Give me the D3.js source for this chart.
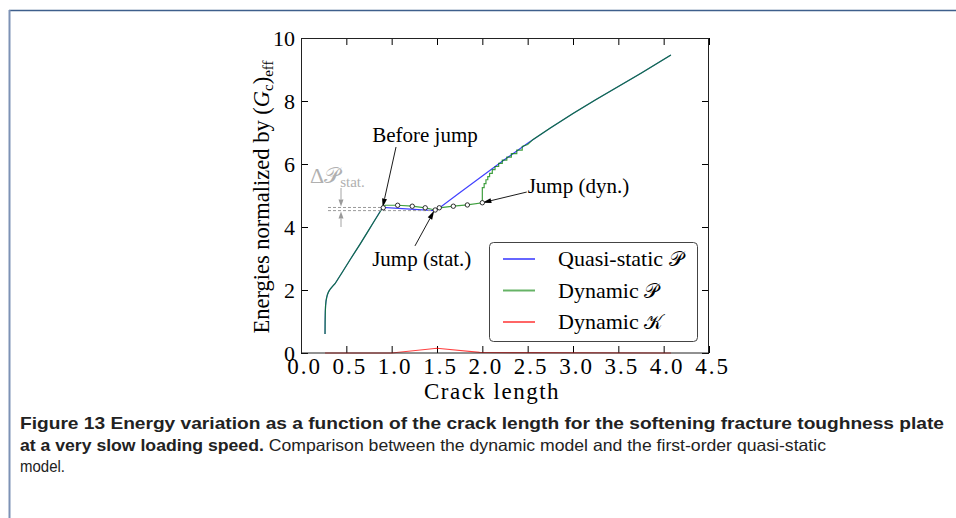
<!DOCTYPE html>
<html><head><meta charset="utf-8">
<script src="https://cdn.jsdelivr.net/npm/d3@7/dist/d3.min.js"></script>
<style>
html,body{margin:0;padding:0;background:#fff;}
svg text{font-family:"Liberation Serif","Times New Roman",serif;}
</style></head>
<body><svg id="c" width="956" height="518"></svg>
<script>
// ---- data ----
const xTicks = [0.0,0.5,1.0,1.5,2.0,2.5,3.0,3.5,4.0,4.5];
const yTicks = [0,2,4,6,8,10];

const quasiA = [0.265,0.266,0.268,0.271,0.276,0.283,0.292,0.305,0.325,0.35,0.375,0.45,0.55,0.65,0.73,0.80,0.90,
                1.47,1.50,1.75,2.00,2.25,2.50,2.75,3.00,3.25,3.50,3.75,4.08];
const quasiP = [0.60,1.00,1.30,1.50,1.65,1.76,1.86,1.95,2.04,2.12,2.20,2.54,3.00,3.45,3.82,4.15,4.62,
                4.52,4.55,5.09,5.62,6.15,6.66,7.14,7.60,8.04,8.46,8.88,9.46];

const dynA = [0.265,0.266,0.268,0.271,0.276,0.283,0.292,0.305,0.325,0.35,0.375,0.45,0.55,0.65,0.73,0.80,0.90,
              0.93,1.066,1.227,1.37,1.48,1.525,1.68,1.835,2.00,
              2.00,2.02,2.02,2.04,2.04,2.06,2.06,2.08,2.08,2.11,2.11,2.14,2.14,2.18,2.18,2.22,2.22,2.27,2.27,2.32,2.32,2.38,2.38,2.44,2.44,2.50,2.56,
              2.75,3.00,3.25,3.50,3.75,4.08];
const dynP = [0.60,1.00,1.30,1.50,1.65,1.76,1.86,1.95,2.04,2.12,2.20,2.54,3.00,3.45,3.82,4.15,4.61,
              4.69,4.69,4.66,4.61,4.54,4.61,4.66,4.70,4.77,
              5.25,5.25,5.38,5.38,5.50,5.50,5.60,5.60,5.70,5.70,5.82,5.82,5.92,5.92,6.02,6.02,6.12,6.12,6.22,6.22,6.33,6.33,6.44,6.44,6.56,6.62,6.78,
              7.14,7.60,8.04,8.46,8.88,9.46];

const kinA = [0.265,1.00,1.50,1.97,2.50,4.08];
const kinK = [0.0,0.0,0.15,0.02,0.01,0.0];

const markA = [0.907,1.066,1.227,1.37,1.48,1.525,1.68,1.835,2.00];
const markP = [4.61,4.69,4.66,4.61,4.54,4.61,4.66,4.70,4.77];

const seriesNames = ["Quasi-static ", "Dynamic ", "Dynamic "];
const seriesSymbols = ["\u{1D4AB}", "\u{1D4AB}", "\u{1D4A6}"];
const seriesColors = ["#0000ff", "#008000", "#ff0000"];

// annotations: label, arrow head (a,P), arrow tail (a,P), text position (a,P)
const annoLabels = ["Before jump", "Jump (stat.)", "Jump (dyn.)"];
const annoHead = [[0.90,4.62],[1.47,4.52],[2.00,4.77]];
const annoTail = [[1.048,6.54],[1.257,3.40],[2.49,5.11]];
const annoText = [[0.785,6.70],[0.785,2.75],[2.50,5.08]];
const deltaLevels = [4.62, 4.52];

// ---- layout ----
const svg = d3.select("#c");
const x = d3.scaleLinear().domain([0,4.5]).range([301,709]);
const y = d3.scaleLinear().domain([0,10]).range([353,38]);

// page frame
svg.append("line").attr("x1",9).attr("x2",956).attr("y1",10.5).attr("y2",10.5)
  .attr("stroke","#3e5f8c").attr("stroke-width",1.5);
svg.append("line").attr("x1",9.5).attr("x2",9.5).attr("y1",10).attr("y2",518)
  .attr("stroke","#7d92b5").attr("stroke-width",2);

// axes
const fmt = d3.format(".1f");
const gx = svg.append("g").attr("transform","translate(0,353)")
  .call(d3.axisBottom(x).tickValues(xTicks).tickSize(-7).tickPadding(5).tickFormat(fmt));
const gxt = svg.append("g").attr("transform","translate(0,38)")
  .call(d3.axisTop(x).tickValues(xTicks).tickSize(-7).tickFormat(""));
const gy = svg.append("g").attr("transform","translate(301,0)")
  .call(d3.axisLeft(y).tickValues(yTicks).tickSize(-7).tickPadding(6).tickFormat(d3.format("d")));
const gyr = svg.append("g").attr("transform","translate(709,0)")
  .call(d3.axisRight(y).tickValues(yTicks).tickSize(-7).tickFormat(""));
[gx,gxt,gy,gyr].forEach(g=>{
  g.select(".domain").remove();
  g.selectAll(".tick line").attr("stroke","#000").attr("stroke-width",1);
  g.selectAll("text").attr("font-family","Liberation Serif").attr("font-size",22).attr("fill","#000");
});
gx.selectAll("text").attr("font-size",23).attr("letter-spacing","2px").attr("dx","3");

// curves
const line = d3.line().x(d=>x(d[0])).y(d=>y(d[1]));
svg.append("defs").append("clipPath").attr("id","pc")
  .append("rect").attr("x",301).attr("y",38).attr("width",408).attr("height",316);
const plot = svg.append("g").attr("clip-path","url(#pc)");
plot.append("path").datum(quasiA.map((a,i)=>[a,quasiP[i]])).attr("d",line)
  .attr("fill","none").attr("stroke",seriesColors[0]).attr("stroke-opacity",0.75).attr("stroke-width",1.2);
plot.append("path").datum(dynA.map((a,i)=>[a,dynP[i]])).attr("d",line)
  .attr("fill","none").attr("stroke",seriesColors[1]).attr("stroke-opacity",0.75).attr("stroke-width",1.2);
plot.append("path").datum(kinA.map((a,i)=>[a,kinK[i]])).attr("d",line)
  .attr("fill","none").attr("stroke",seriesColors[2]).attr("stroke-opacity",0.75).attr("stroke-width",1.2);

// plot frame
svg.append("rect").attr("x",301.5).attr("y",38.5).attr("width",407).attr("height",314.5)
  .attr("fill","none").attr("stroke","#222").attr("stroke-width",1);

// dashed levels and delta arrows
svg.selectAll(".lev").data(deltaLevels).enter().append("line")
  .attr("x1",328).attr("x2",(d,i)=>x(annoHead[i][0])).attr("y1",d=>y(d)).attr("y2",d=>y(d))
  .attr("stroke","#9a9a9a").attr("stroke-width",1).attr("stroke-dasharray","3,2");

function arrow(x1,y1,x2,y2,color,hl,hw){
  const ang = Math.atan2(y2-y1,x2-x1);
  const bx = x2 - hl*Math.cos(ang), by = y2 - hl*Math.sin(ang);
  svg.append("line").attr("x1",x1).attr("y1",y1).attr("x2",bx).attr("y2",by)
    .attr("stroke",color).attr("stroke-width",0.9);
  const px = -Math.sin(ang)*hw, py = Math.cos(ang)*hw;
  svg.append("path").attr("d",`M${x2},${y2}L${bx+px},${by+py}L${bx-px},${by-py}Z`).attr("fill",color);
}
arrow(341,188,341,y(deltaLevels[0])-1,"#9a9a9a",7,2.5);
arrow(341,227,341,y(deltaLevels[1])+1,"#9a9a9a",7,2.5);

const dt = svg.append("text").attr("x",310).attr("y",183).attr("fill","#b0b0b0").attr("font-size",22);
dt.append("tspan").text("\u0394\u{1D4AB}");
dt.append("tspan").attr("font-size",15).attr("dy",4).text("stat.");

// annotation arrows & text
annoLabels.forEach((t,i)=>{
  arrow(x(annoTail[i][0]),y(annoTail[i][1]),x(annoHead[i][0]),y(annoHead[i][1]),"#000",9,2.5);
  svg.append("text").attr("x",x(annoText[i][0])).attr("y",y(annoText[i][1]))
    .attr("font-size",21).attr("fill","#000").text(t);
});

// markers
svg.selectAll(".mk").data(markA.map((a,i)=>[a,markP[i]])).enter().append("circle")
  .attr("cx",d=>x(d[0])).attr("cy",d=>y(d[1])).attr("r",2.2)
  .attr("fill","#fff").attr("stroke","#000").attr("stroke-width",0.8);

// legend
const lg = svg.append("g");
lg.append("rect").attr("x",489.5).attr("y",242.5).attr("width",208).attr("height",99).attr("rx",4)
  .attr("fill","#fff").attr("stroke","#444").attr("stroke-width",1);
seriesNames.forEach((n,i)=>{
  const yy = 259 + i*31.5;
  lg.append("line").attr("x1",503).attr("x2",535).attr("y1",yy).attr("y2",yy)
    .attr("stroke",seriesColors[i]).attr("stroke-opacity",0.6).attr("stroke-width",2);
  const t = lg.append("text").attr("x",558).attr("y",yy+7).attr("font-size",22).attr("fill","#000");
  t.append("tspan").text(n);
  t.append("tspan").attr("font-size",20).text(seriesSymbols[i]);
});

// axis labels
svg.append("text").attr("x",492).attr("y",399).attr("text-anchor","middle")
  .attr("font-size",23).attr("letter-spacing","1.5px").text("Crack length");
const yl = svg.append("text").attr("transform","translate(269,197) rotate(-90)")
  .attr("text-anchor","middle").attr("font-size",22.5);
yl.append("tspan").text("Energies normalized by (");
yl.append("tspan").attr("font-style","italic").text("G");
yl.append("tspan").attr("font-size",15).attr("dy",4).text("c");
yl.append("tspan").attr("dy",-4).text(")");
yl.append("tspan").attr("font-size",15).attr("dy",4).text("eff");

// caption
const capFont = "Liberation Sans, Arial, sans-serif";
svg.append("text").attr("x",20).attr("y",429).attr("font-size",16.5).attr("font-weight","bold")
  .style("font-family",capFont).attr("fill","#222")
  .attr("textLength",924).attr("lengthAdjust","spacingAndGlyphs")
  .text("Figure 13  Energy variation as a function of the crack length for the softening fracture toughness plate");
const l2 = svg.append("text").attr("x",20).attr("y",451).attr("font-size",16.5)
  .style("font-family",capFont).attr("fill","#222")
  .attr("textLength",806).attr("lengthAdjust","spacingAndGlyphs");
l2.append("tspan").attr("font-weight","bold").text("at a very slow loading speed.");
l2.append("tspan").text(" Comparison between the dynamic model and the first-order quasi-static");
svg.append("text").attr("x",20).attr("y",472).attr("font-size",16.5)
  .style("font-family",capFont).attr("fill","#222")
  .attr("textLength",45).attr("lengthAdjust","spacingAndGlyphs").text("model.");
</script></body></html>
